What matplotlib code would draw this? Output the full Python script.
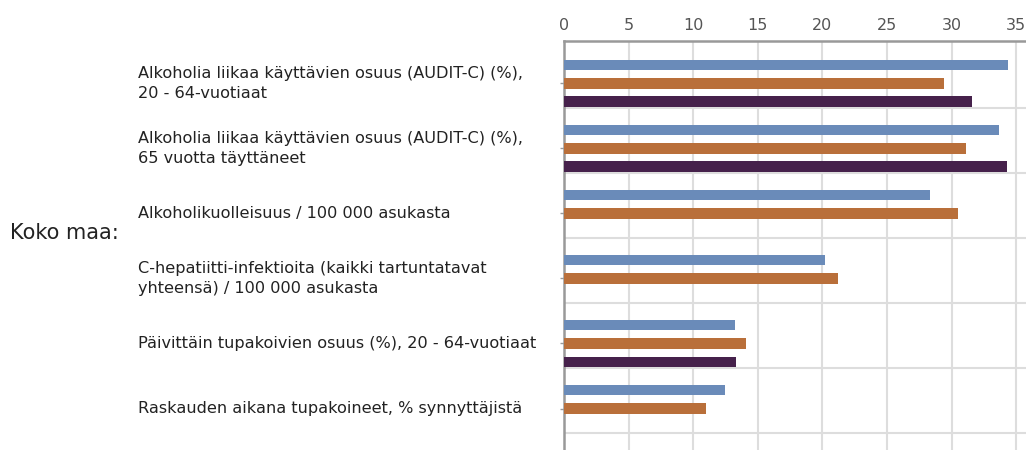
import matplotlib.pyplot as plt
import numpy as np
from matplotlib import transforms

plt.rcParams['font.family'] = ['DejaVu Sans']

categories = [
    "Alkoholia liikaa käyttävien osuus (AUDIT-C) (%),\n20 - 64-vuotiaat",
    "Alkoholia liikaa käyttävien osuus (AUDIT-C) (%),\n65 vuotta täyttäneet",
    "Alkoholikuolleisuus / 100 000 asukasta",
    "C-hepatiitti-infektioita (kaikki tartuntatavat\nyhteensä) / 100 000 asukasta",
    "Päivittäin tupakoivien osuus (%), 20 - 64-vuotiaat",
    "Raskauden aikana tupakoineet, % synnyttäjistä",
]
blue_vals = [34.4, 33.7, 28.3, 20.2, 13.2, 12.5]
orange_vals = [29.45, 31.1, 30.5, 21.2, 14.1, 11.0]
purple_vals = [31.6, 34.3, np.nan, np.nan, 13.3, np.nan]
xticks = [0, 5, 10, 15, 20, 25, 30, 35]

colors = ["#6a8bb9", "#b96f3a", "#46214b"]

fig = plt.figure(figsize=(10.26, 4.5), dpi=100)
# axes from x=564px to beyond right edge, top at y=41px, extending below bottom
ax = fig.add_axes([564 / 1026, -20 / 450, 465 / 1026, (450 + 20 - 41) / 450])

y = np.arange(len(categories))
off = 0.283
h = 0.164
for vals, dy, c in zip([blue_vals, orange_vals, purple_vals], [-off, 0, off], colors):
    ax.barh(y + dy, vals, height=h, color=c, edgecolor='none', zorder=3)

ax.set_xlim(0, 36)
ax.set_ylim(y[-1] + 0.375 + 0.57, -0.65)

ax.xaxis.tick_top()
ax.set_xticks(xticks)
ax.set_xticklabels([str(t) for t in xticks], color="#555555", fontsize=11.5)
ax.tick_params(axis='x', length=0, pad=6)
ax.set_yticks(y)
ax.set_yticklabels([])
ax.tick_params(axis='y', length=3, color="#999999", width=1)

for t in xticks[1:]:
    ax.axvline(t, color="#dddddd", lw=1.5, zorder=1)
for b in y + 0.375:
    ax.axhline(b, color="#dddddd", lw=1.5, zorder=1)

for s in ['right', 'bottom']:
    ax.spines[s].set_visible(False)
ax.spines['left'].set_color("#999999")
ax.spines['left'].set_linewidth(1.8)
ax.spines['top'].set_color("#999999")
ax.spines['top'].set_linewidth(1.8)

trans = transforms.blended_transform_factory(fig.transFigure, ax.transData)
for yi, lab in zip(y, categories):
    ax.text(138 / 1026, yi, lab, transform=trans, ha='left', va='center',
            fontsize=11.6, color="#222222", linespacing=1.4, clip_on=False)

fig.text(10 / 1026, 1 - 233 / 450, "Koko maa:", ha='left', va='center',
         fontsize=15, color="#222222")

fig.savefig("out.png", dpi=100)
